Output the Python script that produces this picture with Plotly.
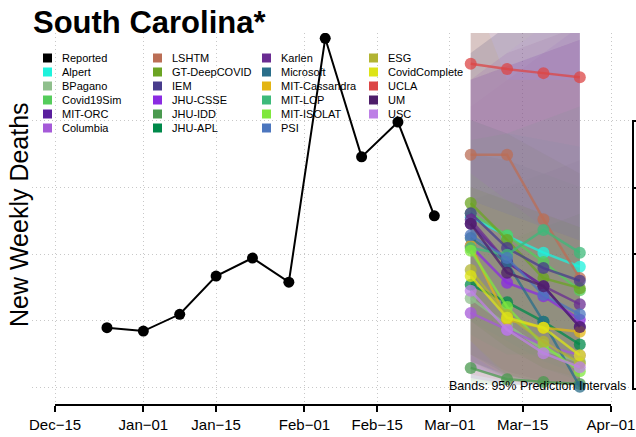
import plotly.graph_objects as go

# Reported weekly deaths
rep_dates = ['2020-12-25', '2021-01-01', '2021-01-08', '2021-01-15', '2021-01-22',
             '2021-01-29', '2021-02-05', '2021-02-12', '2021-02-19', '2021-02-26']
rep_vals = [190, 185, 210, 267, 294, 258, 622, 445, 497, 357]

# forecast target weeks
fc_dates = ['2021-03-05', '2021-03-12', '2021-03-19', '2021-03-26']

models = ['Alpert', 'BPagano', 'Covid19Sim', 'MIT-ORC', 'Columbia',
          'LSHTM', 'GT-DeepCOVID', 'IEM', 'JHU-CSSE', 'JHU-IDD', 'JHU-APL',
          'Karlen', 'Microsoft', 'MIT-Cassandra', 'MIT-LCP', 'MIT-ISOLAT', 'PSI',
          'ESG', 'CovidComplete', 'UCLA', 'UM', 'USC']

colors = ['#1ef2dc', '#8fbf8c', '#55cc5b', '#5a1f9e', '#a55ad8',
          '#bb6e55', '#6ba423', '#483c8c', '#8b2be2', '#4a9a4f', '#00894a',
          '#6a2c92', '#2a6e8a', '#e3b514', '#3dba7a', '#80e83d', '#4c76be',
          '#b2b433', '#dde417', '#dc4646', '#4e1e6a', '#bd80e6']

point = {
    'Alpert': [355, 327, 302, 281],
    'BPagano': [234, 194, 157, 139],
    'Covid19Sim': [361, 328, 288, 246],
    'MIT-ORC': [345, 288, 252, 191],
    'Columbia': [212, 187, 164, 149],
    'LSHTM': [448, 448, 352, 264],
    'GT-DeepCOVID': [376, 321, 264, 249],
    'IEM': [361, 309, 279, 260],
    'JHU-CSSE': [312, 257, 237, 202],
    'JHU-IDD': [130, 113, 109, 106],
    'JHU-APL': [254, 228, 199, 165],
    'Karlen': [351, 288, 252, 225],
    'Microsoft': [324, 287, 199, 102],
    'MIT-Cassandra': [312, 202, 190, 184],
    'MIT-LCP': [309, 299, 336, 302],
    'MIT-ISOLAT': [305, 221, 164, 125],
    'PSI': [328, 294, 239, 210],
    'ESG': [276, 209, 169, 137],
    'CovidComplete': [267, 205, 190, 149],
    'UCLA': [584, 576, 570, 564],
    'UM': [345, 272, 252, 191],
    'USC': [245, 187, 152, 131],
}

# 95% prediction intervals
band_lo = {
    'Alpert': [200, 170, 140, 120], 'BPagano': [110, 105, 104, 104],
    'Covid19Sim': [200, 160, 130, 110], 'MIT-ORC': [130, 115, 108, 104],
    'Columbia': [115, 106, 104, 104], 'LSHTM': [140, 120, 108, 104],
    'GT-DeepCOVID': [200, 160, 130, 115], 'IEM': [150, 125, 110, 105],
    'JHU-CSSE': [130, 112, 106, 104], 'JHU-IDD': [104, 104, 104, 104],
    'JHU-APL': [140, 115, 106, 104], 'Karlen': [140, 118, 108, 104],
    'Microsoft': [150, 120, 106, 104], 'MIT-Cassandra': [170, 120, 108, 105],
    'MIT-LCP': [180, 150, 150, 130], 'MIT-ISOLAT': [170, 115, 105, 104],
    'PSI': [140, 118, 108, 104], 'ESG': [140, 110, 105, 104],
    'CovidComplete': [150, 115, 106, 104], 'UCLA': [120, 110, 106, 104],
    'UM': [130, 115, 106, 104], 'USC': [115, 105, 104, 104],
}
band_hi = {
    'Alpert': [500, 480, 470, 460], 'BPagano': [380, 400, 420, 440],
    'Covid19Sim': [450, 440, 420, 400], 'MIT-ORC': [560, 580, 600, 620],
    'Columbia': [520, 560, 600, 640], 'LSHTM': [800, 850, 900, 950],
    'GT-DeepCOVID': [500, 480, 450, 420], 'IEM': [720, 780, 840, 900],
    'JHU-CSSE': [560, 580, 600, 620], 'JHU-IDD': [300, 320, 340, 360],
    'JHU-APL': [400, 380, 360, 340], 'Karlen': [560, 600, 620, 640],
    'Microsoft': [600, 640, 680, 720], 'MIT-Cassandra': [700, 560, 560, 560],
    'MIT-LCP': [470, 480, 500, 520], 'MIT-ISOLAT': [420, 380, 340, 300],
    'PSI': [720, 780, 840, 900], 'ESG': [400, 380, 360, 340],
    'CovidComplete': [380, 360, 340, 320], 'UCLA': [850, 900, 950, 1000],
    'UM': [600, 640, 680, 720], 'USC': [560, 600, 640, 680],
}

tick_vals = ['2020-12-15', '2021-01-01', '2021-01-15', '2021-02-01',
             '2021-02-15', '2021-03-01', '2021-03-15', '2021-04-01']
tick_text = ['Dec\u221215', 'Jan\u221201', 'Jan\u221215', 'Feb\u221201',
             'Feb\u221215', 'Mar\u221201', 'Mar\u221215', 'Apr\u221201']
grid_y = [100, 200, 300, 400, 500]

# page margin is removed below, so the figure fills the window
W, H = 636, 437
ML, MR, MT, MB = 32, 4, 33, 32
PW, PH = W - ML - MR, H - MT - MB


def px(x):
    # x in screenshot pixels -> paper
    return (x - ML) / PW


def py(y):
    return (H - MB - y) / PH


def rgba(h, a):
    h = h.lstrip('#')
    return 'rgba(%d,%d,%d,%s)' % (int(h[0:2], 16), int(h[2:4], 16), int(h[4:6], 16), a)


fig = go.Figure()

# prediction bands
for m, c in zip(models, colors):
    fig.add_trace(go.Scatter(
        x=fc_dates + fc_dates[::-1], y=band_hi[m] + band_lo[m][::-1],
        fill='toself', fillcolor=rgba(c, 0.09), line=dict(width=0),
        mode='lines', hoverinfo='skip', showlegend=False))

# forecasts
for m, c in zip(models, colors):
    fig.add_trace(go.Scatter(
        x=fc_dates, y=point[m], mode='lines+markers', name=m,
        line=dict(color=rgba(c, 0.75), width=2.5),
        marker=dict(color=rgba(c, 0.75), size=12), showlegend=False))

fig.add_trace(go.Scatter(
    x=rep_dates, y=rep_vals, mode='lines+markers', name='Reported',
    line=dict(color='black', width=2), marker=dict(color='black', size=11),
    showlegend=False))

# manual legend, 4 columns x 6 rows
leg_names = ['Reported'] + models
leg_colors = ['#000000'] + colors
col_x = [43, 153, 262, 369]
row_y = [58, 72, 86, 100, 114, 128]
shapes = []
annotations = []
for i, (n, c) in enumerate(zip(leg_names, leg_colors)):
    cx, ry = col_x[i // 6], row_y[i % 6]
    shapes.append(dict(type='rect', xref='paper', yref='paper',
                       x0=px(cx), x1=px(cx + 9), y0=py(ry + 4.5), y1=py(ry - 4.5),
                       fillcolor=c, line=dict(width=0)))
    annotations.append(dict(text=n, xref='paper', yref='paper', x=px(cx + 17), y=py(ry),
                            xanchor='left', yanchor='middle', showarrow=False,
                            font=dict(size=11, color='black')))

# bottom axis line (only between first and last tick)
shapes.append(dict(type='line', xref='x', yref='paper', x0=tick_vals[0], x1=tick_vals[-1],
                   y0=0, y1=0, line=dict(color='black', width=2)))
# right axis, its labels fall outside the picture
right_ticks = [121, 188, 254, 321, 389]
shapes.append(dict(type='line', xref='paper', yref='paper', x0=px(633), x1=px(633),
                   y0=py(right_ticks[0]), y1=py(right_ticks[-1]),
                   line=dict(color='black', width=2)))
for t in right_ticks:
    shapes.append(dict(type='line', xref='paper', yref='paper', x0=px(632), x1=px(640),
                       y0=py(t), y1=py(t), line=dict(color='black', width=2)))

annotations.append(dict(text='Bands: 95% Prediction Intervals', xref='paper', yref='paper',
                        x=px(628), y=py(386), xanchor='right', yanchor='middle',
                        showarrow=False, font=dict(size=12.5, color='black')))
annotations.append(dict(text='New Weekly Deaths', xref='paper', yref='paper',
                        x=px(19), y=py(215), xanchor='center', yanchor='middle',
                        textangle=-90, showarrow=False, font=dict(size=25, color='black')))

fig.update_layout(
    width=W, height=H,
    margin=dict(l=ML, r=MR, t=MT, b=MB),
    paper_bgcolor='white', plot_bgcolor='white',
    font=dict(family='Liberation Sans, Arial, sans-serif', color='black'),
    title=dict(text='<b>South Carolina*</b>', x=33 / W, xanchor='left',
               y=1 - 22 / H, yanchor='middle', font=dict(size=31, color='black')),
    shapes=shapes, annotations=annotations,
    showlegend=False,
)
fig.update_xaxes(
    range=['2020-12-10 13:40', '2021-04-05 01:00'], automargin=False,
    tickvals=tick_vals, ticktext=tick_text, tickfont=dict(size=15),
    ticks='outside', ticklen=6, tickwidth=2, tickcolor='black',
    showline=False, zeroline=False,
    showgrid=True, gridcolor='#c8c8c8', griddash='1px,3px', gridwidth=1)
fig.update_yaxes(
    range=[74.6, 629.9], automargin=False, tickvals=grid_y, showticklabels=False, ticks='',
    showgrid=True, gridcolor='#c8c8c8', griddash='1px,3px', gridwidth=1,
    zeroline=False, showline=False)

fig.write_html('out.html', config={'displayModeBar': False},
               post_script="document.body.style.margin='0';"
                           "document.documentElement.style.overflow='hidden';")
